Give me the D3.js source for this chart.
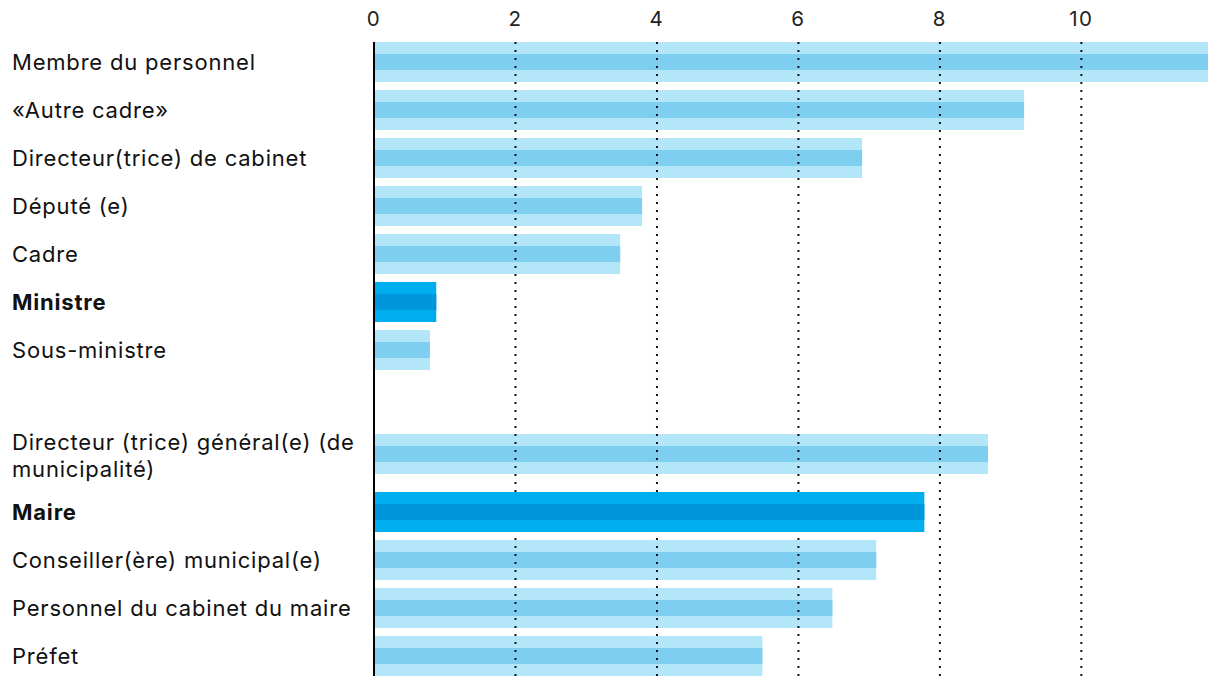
<!DOCTYPE html>
<html><head><meta charset="utf-8">
<script src="https://cdn.jsdelivr.net/npm/d3@7"></script>
<style>
html,body{margin:0;padding:0;background:#fff;}
svg{display:block;font-family:Inter,"Noto Sans",sans-serif;}
</style></head>
<body><svg id="c" width="1220" height="686"></svg>
<script>
// Data
const groupA = ["Membre du personnel","«Autre cadre»","Directeur(trice) de cabinet","Député (e)","Cadre","Ministre","Sous-ministre"];
const valuesA = [11.79, 9.19, 6.90, 3.79, 3.48, 0.88, 0.79];
const groupB = ["Directeur (trice) général(e) (de municipalité)","Maire","Conseiller(ère) municipal(e)","Personnel du cabinet du maire","Préfet"];
const valuesB = [8.68, 7.78, 7.10, 6.48, 5.49];
const labelLinesB = [["Directeur (trice) général(e) (de","municipalité)"],["Maire"],["Conseiller(ère) municipal(e)"],["Personnel du cabinet du maire"],["Préfet"]];
const highlighted = ["Ministre","Maire"];
const ticks = [0, 2, 4, 6, 8, 10];

const svg = d3.select("#c");
const x = d3.scaleLinear().domain([0, 11.79]).range([374, 1208]);
const yA = d3.scaleBand().domain(groupA).range([38, 374]).paddingInner(1/6).paddingOuter(1/12);
const yB = d3.scaleBand().domain(groupB).range([440, 680]).paddingInner(1/6).paddingOuter(1/12);

const rows = [];
groupA.forEach((c,i)=>rows.push({cat:c, v:valuesA[i], lines:[c], y:yA(c), bw:yA.bandwidth()}));
groupB.forEach((c,i)=>{
  const lines = labelLinesB[i];
  rows.push({cat:c, v:valuesB[i], lines:lines, y:yB(c) - (lines.length-1)*10, bw:yB.bandwidth()});
});
rows.forEach(r=>r.hi = highlighted.includes(r.cat));

function drawBars(g, data){
  const b = g.selectAll("g.bar").data(data).join("g").attr("class","bar");
  b.append("rect").attr("x", x(0)).attr("y", d=>d.y).attr("width", d=>x(d.v)-x(0)).attr("height", d=>d.bw)
    .attr("fill", d=>d.hi ? "#00adef" : "#b3e6f8");
  b.append("rect").attr("x", x(0)).attr("y", d=>d.y + d.bw*0.3).attr("width", d=>x(d.v)-x(0)).attr("height", d=>d.bw*0.4)
    .attr("fill", d=>d.hi ? "#0096db" : "#7ecef0");
}

drawBars(svg.append("g"), rows.filter(r=>!r.hi));

// gridlines
svg.append("g").selectAll("line").data(ticks.filter(t=>t>0)).join("line")
  .attr("x1", d=>x(d)).attr("x2", d=>x(d)).attr("y1", 42).attr("y2", 677)
  .attr("stroke", "#111").attr("stroke-width", 2).attr("stroke-dasharray", "2 6");

drawBars(svg.append("g"), rows.filter(r=>r.hi));

// axis line
svg.append("line").attr("x1", 374).attr("x2", 374).attr("y1", 42).attr("y2", 676)
  .attr("stroke", "#000").attr("stroke-width", 2);

// tick labels
svg.append("g").selectAll("text").data(ticks).join("text")
  .attr("x", d=>x(d)).attr("y", 26).attr("text-anchor","middle")
  .attr("font-size", 20.5).attr("letter-spacing", 1.5).attr("fill", "#222").text(d=>d);

// category labels
const lab = svg.append("g").selectAll("text").data(rows).join("text")
  .attr("x", 12).attr("font-size", 22).attr("letter-spacing", 0.8).attr("fill", "#111")
  .attr("font-weight", d=>d.hi ? 700 : 400)
  .attr("y", d=> d.lines.length>1 ? d.y + d.bw/2 - 4 : d.y + d.bw/2 + 8);
lab.selectAll("tspan").data(d=>d.lines).join("tspan")
  .attr("x", 12).attr("dy", (d,i)=> i===0 ? 0 : 27).text(d=>d);
</script></body></html>
